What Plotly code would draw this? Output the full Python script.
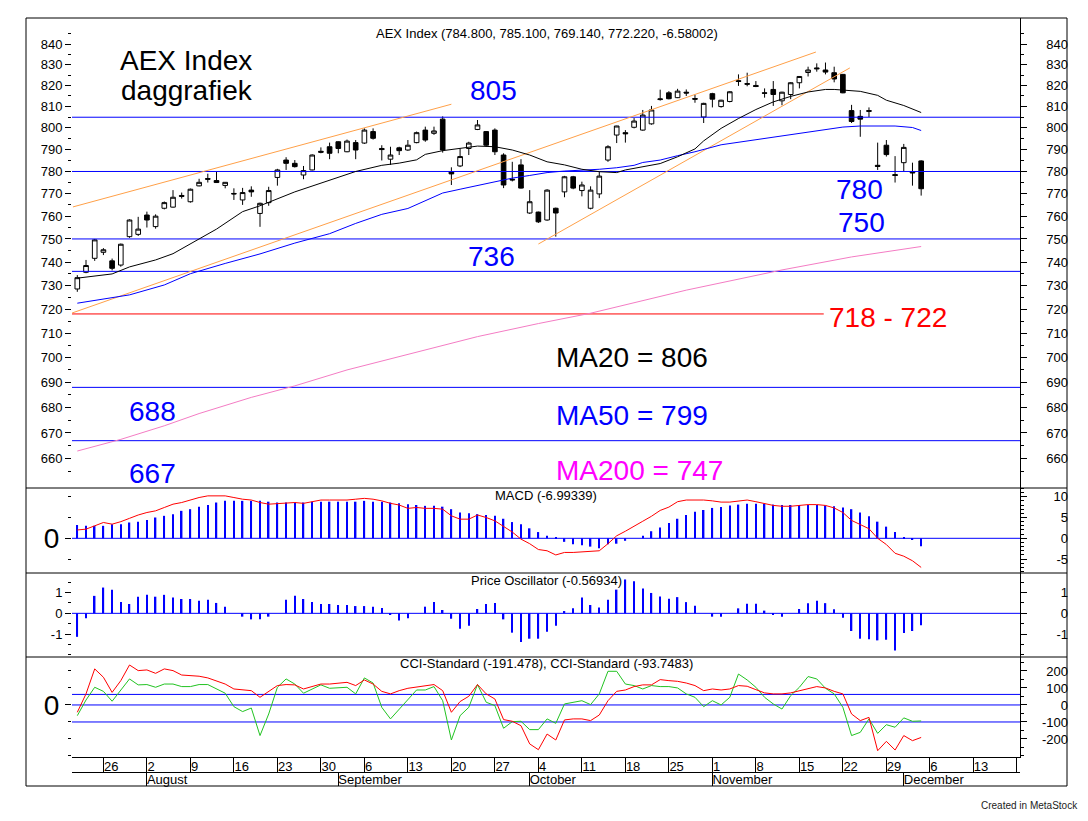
import math
import plotly.graph_objects as go

W, H = 1088, 821

# ================= AEX daggrafiek: waarden =================
# handelsdagen 21 juli t/m 3 december (index 0..97)
bar_open = [728.5, 735.6, 741.6, 744.2, 740.5, 738.7, 751.0, 752.0, 760.5, 755.4,
            763.5, 764.0, 769.2, 766.4, 773.5, 776.8, 775.9, 773.7, 770.1, 767.2,
            771.6, 761.2, 766.0, 777.3, 785.2, 783.7, 778.4, 780.7, 789.2, 791.3,
            793.6, 789.0, 793.2, 793.0, 798.3, 790.5, 785.6, 790.8, 789.8, 793.2,
            799.0, 797.5, 804.1, 779.9, 782.5, 790.5, 799.3, 798.3, 799.0, 787.5,
            776.5, 783.0, 761.4, 761.8, 758.3, 763.5, 770.8, 777.6, 771.4, 763.5,
            769.9, 785.2, 796.7, 797.8, 800.3, 799.0, 801.9, 813.3, 816.5, 814.2,
            816.8, 813.8, 805.1, 816.1, 810.0, 812.4, 822.3, 820.9, 820.0, 816.5,
            818.1, 812.7, 815.7, 821.3, 826.2, 828.4, 827.4, 826.1, 825.3, 808.1,
            805.4, 808.1, 782.8, 792.0, 778.6, 784.0, 779.8, 784.8]
bar_high = [734.4, 740.9, 750.0, 746.0, 741.5, 748.0, 758.6, 759.7, 762.0, 760.8,
            766.5, 771.6, 770.5, 772.3, 776.7, 779.0, 779.9, 775.2, 772.4, 772.6,
            773.3, 766.0, 773.1, 781.2, 786.5, 785.2, 782.5, 787.8, 791.0, 793.2,
            793.8, 794.6, 794.4, 799.8, 799.8, 792.0, 791.3, 791.3, 794.4, 798.3,
            800.6, 800.6, 805.4, 781.9, 790.5, 793.6, 803.7, 798.5, 799.8, 788.3,
            784.4, 785.6, 771.6, 762.0, 772.0, 763.8, 778.0, 778.0, 775.4, 773.3,
            779.9, 792.0, 801.0, 799.0, 804.6, 808.4, 810.3, 818.0, 817.3, 818.4,
            818.1, 815.6, 811.8, 816.5, 813.2, 817.3, 825.3, 826.1, 822.1, 818.6,
            822.1, 817.0, 821.6, 824.5, 829.0, 830.6, 831.0, 829.0, 825.5, 810.8,
            808.4, 809.6, 793.2, 794.4, 787.0, 792.6, 784.0, 785.1]
bar_low = [727.3, 735.2, 740.5, 743.0, 736.4, 738.0, 750.5, 751.3, 755.0, 754.5,
           763.0, 763.8, 767.8, 766.0, 773.3, 775.0, 774.8, 772.4, 767.2, 765.0,
           768.6, 755.3, 764.6, 773.6, 780.7, 781.8, 776.5, 780.5, 788.3, 785.6,
           788.3, 788.8, 785.6, 792.6, 794.6, 785.0, 783.0, 787.5, 789.4, 792.9,
           793.6, 796.8, 788.6, 773.9, 782.0, 787.5, 799.0, 791.3, 787.5, 772.5,
           775.5, 772.3, 761.0, 757.0, 758.0, 751.0, 768.4, 772.0, 768.8, 763.0,
           768.0, 784.4, 793.0, 793.2, 799.8, 798.7, 801.5, 812.8, 813.4, 814.0,
           815.0, 811.8, 802.3, 809.6, 809.5, 812.0, 819.8, 819.6, 819.2, 814.2,
           810.3, 810.6, 813.5, 818.6, 824.3, 826.6, 825.3, 821.5, 816.3, 802.3,
           795.9, 805.1, 780.7, 786.8, 775.0, 779.9, 773.6, 769.14]
bar_close = [733.3, 738.5, 749.6, 745.3, 737.3, 747.7, 758.3, 754.3, 758.3, 760.0,
             766.0, 768.4, 768.8, 772.0, 775.1, 776.5, 775.0, 775.1, 769.9, 770.5,
             770.8, 765.7, 771.4, 780.7, 783.7, 782.2, 780.4, 787.5, 788.8, 788.3,
             790.5, 793.9, 789.8, 799.0, 795.2, 790.0, 787.5, 789.5, 792.0, 797.8,
             794.4, 798.6, 789.8, 778.9, 786.8, 793.0, 801.4, 792.0, 789.0, 773.9,
             776.2, 772.5, 766.4, 757.5, 771.6, 761.4, 777.6, 772.5, 773.9, 771.6,
             777.9, 791.3, 800.9, 797.3, 803.2, 806.0, 808.4, 813.6, 813.7, 817.3,
             816.4, 813.5, 811.5, 813.5, 813.0, 817.0, 821.9, 820.6, 819.5, 816.3,
             815.7, 816.8, 821.3, 824.3, 827.4, 828.0, 826.4, 823.1, 816.5, 803.0,
             804.1, 807.8, 782.3, 787.7, 778.2, 791.0, 779.4, 772.22]

ma20_at = [0, 4, 6, 9, 11, 14, 16, 19, 21, 25, 26, 29, 32, 35, 37, 39, 40, 42, 44, 46,
           48, 50, 52, 54, 56, 58, 60, 62, 63, 65, 67, 69, 71, 72, 74, 76, 78, 80, 82,
           84, 86, 87, 89, 90, 92, 93, 95, 97]
ma20 = [733.1, 734.9, 737.9, 740.9, 743.6, 750.2, 754.3, 762.0, 764.6, 770.8, 772.1,
        776.3, 780.0, 782.8, 783.8, 785.3, 787.8, 789.5, 790.5, 791.6, 791.3, 789.8,
        787.5, 784.4, 783.0, 781.0, 779.9, 779.5, 780.7, 782.0, 783.6, 786.7, 790.3,
        794.0, 799.8, 804.4, 808.6, 812.2, 814.8, 816.9, 818.1, 818.1, 817.7, 817.2,
        815.3, 813.0, 810.5, 807.2]
ma50_at = [0, 6, 10, 13, 17, 21, 25, 29, 32, 35, 38, 40, 42, 44, 46, 48, 50, 52, 54,
           56, 58, 60, 62, 64, 65, 67, 69, 71, 74, 78, 82, 86, 88, 90, 92, 94, 96, 97]
ma50 = [722.5, 726.0, 730.2, 735.0, 739.4, 743.5, 748.2, 752.3, 756.8, 760.8, 763.4,
        766.8, 770.3, 772.0, 773.6, 775.4, 777.0, 778.2, 779.5, 780.2, 780.5, 781.0,
        781.7, 782.8, 784.1, 785.2, 787.2, 789.0, 792.2, 794.5, 796.9, 798.9, 800.4,
        800.9, 800.9, 800.9, 800.2, 798.8]
ma200_at = [0, 5, 10, 14, 20, 25, 31, 36, 40, 46, 53, 59, 70, 81, 89, 97]
ma200 = [663.0, 667.5, 672.8, 677.6, 684.0, 688.6, 695.0, 699.4, 703.2, 708.6, 714.0,
         718.3, 728.0, 736.6, 742.2, 746.7]

# getekende trendlijnen (begin- en eindpunt)
trend_at = [[-0.5, 43.0], [-0.6, 84.9], [53.0, 88.8]]
trend_val = [[764.1, 811.1], [718.4, 836.1], [747.8, 828.4]]

# steun / weerstand
levels_blue = [805, 780, 750, 736, 688, 667]
level_red = 718
level_red_end = 85.8

# MACD
macd = [2.0, 2.2, 3.0, 3.8, 3.4, 4.0, 4.8, 5.6, 6.2, 6.6,
        7.4, 8.2, 8.6, 9.2, 9.8, 10.2, 10.2, 10.2, 9.8, 9.4,
        9.2, 8.6, 8.2, 8.3, 8.4, 8.6, 8.4, 8.8, 9.2, 9.2,
        9.2, 9.2, 9.4, 9.6, 9.4, 9.0, 8.4, 8.0, 7.2, 7.4,
        7.2, 7.2, 7.0, 5.4, 4.6, 4.6, 5.6, 5.0, 4.2, 2.8,
        1.5, -0.2, -1.3, -2.7, -3.0, -4.0, -3.4, -3.4, -3.3, -3.2,
        -3.0, -1.3, 0.6, 1.7, 3.0, 4.1, 5.3, 6.7, 7.5, 8.8,
        9.2, 9.2, 9.2, 9.0, 8.7, 8.7, 9.0, 9.2, 8.8, 8.4,
        7.9, 7.7, 7.7, 7.9, 8.1, 8.1, 7.9, 7.3, 6.2, 4.3,
        3.2, 2.3, 0.0, -1.5, -3.6, -4.3, -5.4, -7.0]
macd_hist = [3.2, 3.0, 3.0, 3.0, 3.4, 3.4, 3.8, 4.0, 4.4, 5.0,
             5.4, 5.8, 6.6, 7.0, 7.6, 8.0, 8.6, 9.0, 9.0, 9.0,
             9.0, 9.0, 8.8, 8.6, 8.6, 8.6, 8.6, 8.8, 8.8, 8.8,
             8.8, 8.8, 8.8, 9.0, 8.8, 8.8, 8.6, 8.4, 8.2, 8.0,
             7.8, 7.8, 7.6, 7.0, 6.2, 6.0, 5.8, 5.6, 5.4, 4.7,
             3.9, 3.4, 2.4, 1.5, 0.6, 0.1, -0.85, -1.45, -1.7, -2.0,
             -2.4, -1.45, -1.3, -0.6, 0.0, 0.6, 1.7, 2.6, 3.7, 4.7,
             5.6, 6.4, 6.8, 7.3, 7.5, 7.9, 8.1, 8.3, 8.3, 8.3,
             8.1, 8.0, 8.0, 8.0, 8.0, 8.0, 7.9, 7.7, 7.4, 7.0,
             6.2, 5.3, 4.0, 2.8, 1.5, 0.3, -0.4, -1.9]

# Price Oscillator
price_osc = [-1.13, -0.24, 0.84, 1.24, 1.13, 0.55, 0.45, 0.8, 0.89, 0.8,
             0.89, 0.76, 0.69, 0.69, 0.61, 0.65, 0.5, 0.32, 0.0, -0.16,
             -0.29, -0.29, -0.16, 0.0, 0.65, 0.84, 0.69, 0.55, 0.45, 0.45,
             0.4, 0.4, 0.35, 0.35, 0.32, 0.26, -0.08, -0.35, -0.24, 0.0,
             0.32, 0.55, 0.16, -0.26, -0.74, -0.6, 0.21, 0.45, 0.5, -0.29,
             -0.93, -1.38, -1.22, -1.22, -0.89, -0.6, 0.11, 0.24, 0.76, 0.4,
             0.28, 0.65, 1.14, 1.63, 1.54, 1.19, 0.98, 0.81, 0.7, 0.78,
             0.54, 0.36, 0.0, -0.16, -0.16, 0.0, 0.24, 0.46, 0.46, 0.13,
             -0.08, -0.16, 0.0, 0.21, 0.49, 0.6, 0.49, 0.2, -0.21, -0.85,
             -1.22, -1.25, -1.3, -1.27, -1.79, -0.94, -0.85, -0.57]

# CCI
cci_red = [-43, 65, 212, 163, 74, 143, 235, 202, 206, 186,
           212, 202, 176, 172, 169, 159, 143, 123, 94, 88,
           84, 45, 80, 114, 120, 118, 94, 110, 123, 123,
           129, 133, 114, 147, 123, 80, 65, 84, 98, 104,
           114, 120, 84, -43, 20, 51, 120, 65, 35, -86,
           -96, -122, -229, -263, -171, -206, -88, -82, -82, -92,
           -59, 25, 80, 88, 108, 118, 118, 149, 143, 139,
           129, 114, 84, 94, 88, 94, 114, 110, 90, 71,
           65, 65, 71, 84, 98, 108, 100, 80, 65, -53,
           -92, -73, -269, -214, -265, -180, -210, -191]
cci_green = [-63, 29, 104, 80, 22, 84, 153, 118, 120, 104,
             123, 123, 108, 108, 120, 120, 94, 69, -10, -39,
             -18, -180, -53, 104, 153, 123, 69, 94, 118, 98,
             100, 104, 65, 159, 129, -14, -82, -24, 31, 88,
             88, 108, 25, -206, -63, -14, 120, 16, -4, -137,
             -98, -96, -145, -145, -82, -108, 6, 16, 25, 2,
             65, 198, 198, 123, 114, 94, 114, 108, 108, 100,
             65, 45, -10, 25, 0, 45, 182, 147, 104, 45,
             6, -24, 55, 104, 167, 153, 98, 65, -14, -180,
             -161, -82, -167, -116, -131, -76, -96, -94]
cci_levels = [62, 0, -100]

# datum-as
week_at = [3, 8, 13, 18, 23, 28, 33, 38, 43, 48, 53, 58, 63, 68, 73, 78, 83, 88, 93, 98, 103, 108]
week_txt = ["26", "2", "9", "16", "23", "30", "6", "13", "20", "27", "4", "11",
            "18", "25", "1", "8", "15", "22", "29", "6", "13", "20"]
month_at = [8, 30, 52, 73, 95]
month_txt = ["August", "September", "October", "November", "December"]

bars = list(range(len(bar_close)))

# ================= opmaak =================
FONT = "Liberation Sans, Arial, sans-serif"
BLUE = "#0000FF"


def px(x):
    return x / W


def py(y):
    return 1 - y / H


x_dom = [px(72), px(1020)]
x_rng = [-0.61, 108.36]

main_rng = [math.log10(648.9), math.log10(852.8)]
macd_rng = [-8.34, 12.09]
po_rng = [-2.10, 1.94]
cci_rng = [-306, 282]

dom_main = [py(488), py(18)]
dom_macd = [py(573), py(488)]
dom_po = [py(657), py(573)]
dom_cci = [py(757), py(657)]
dom_day = [py(772), py(757)]
dom_month = [py(786), py(772)]

fig = go.Figure()

# --- koersgrafiek ---
for lv in levels_blue:
    fig.add_trace(go.Scatter(x=x_rng, y=[lv, lv], mode="lines",
                             line=dict(color=BLUE, width=1), xaxis="x", yaxis="y"))
fig.add_trace(go.Scatter(x=[x_rng[0], level_red_end], y=[level_red, level_red], mode="lines",
                         line=dict(color="#FF0000", width=1), xaxis="x", yaxis="y"))

for tx, tv in zip(trend_at, trend_val):
    fig.add_trace(go.Scatter(x=tx, y=tv, mode="lines",
                             line=dict(color="#FFA048", width=1), xaxis="x", yaxis="y"))

fig.add_trace(go.Scatter(x=ma200_at, y=ma200, mode="lines",
                         line=dict(color="#F47CC4", width=1), xaxis="x", yaxis="y"))
fig.add_trace(go.Scatter(x=ma50_at, y=ma50, mode="lines",
                         line=dict(color=BLUE, width=1), xaxis="x", yaxis="y"))
fig.add_trace(go.Scatter(x=ma20_at, y=ma20, mode="lines",
                         line=dict(color="black", width=1), xaxis="x", yaxis="y"))

fig.add_trace(go.Candlestick(
    x=bars, open=bar_open, high=bar_high, low=bar_low, close=bar_close,
    increasing=dict(fillcolor="white", line=dict(color="black", width=1)),
    decreasing=dict(fillcolor="black", line=dict(color="black", width=1)),
    whiskerwidth=0, xaxis="x", yaxis="y"))

# --- MACD ---
fig.add_trace(go.Bar(x=bars, y=macd_hist, width=0.17, marker=dict(color=BLUE, line=dict(width=0)),
                     xaxis="x2", yaxis="y4"))
fig.add_trace(go.Scatter(x=x_rng, y=[0, 0], mode="lines", line=dict(color=BLUE, width=1),
                         xaxis="x2", yaxis="y4"))
fig.add_trace(go.Scatter(x=bars, y=macd, mode="lines", line=dict(color="#FF0000", width=1),
                         xaxis="x2", yaxis="y4"))

# --- Price Oscillator ---
fig.add_trace(go.Bar(x=bars, y=price_osc, width=0.17, marker=dict(color=BLUE, line=dict(width=0)),
                     xaxis="x3", yaxis="y7"))
fig.add_trace(go.Scatter(x=x_rng, y=[0, 0], mode="lines", line=dict(color=BLUE, width=1),
                         xaxis="x3", yaxis="y7"))

# --- CCI ---
for lv in cci_levels:
    fig.add_trace(go.Scatter(x=x_rng, y=[lv, lv], mode="lines", line=dict(color=BLUE, width=1),
                             xaxis="x4", yaxis="y10"))
fig.add_trace(go.Scatter(x=bars, y=cci_green, mode="lines", line=dict(color="#22C322", width=1),
                         xaxis="x4", yaxis="y10"))
fig.add_trace(go.Scatter(x=bars, y=cci_red, mode="lines", line=dict(color="#FF0000", width=1),
                         xaxis="x4", yaxis="y10"))

# lege traces zodat de rechter assen en de datumstroken getekend worden
for xa, ya in [("x", "y2"), ("x", "y3"), ("x2", "y5"), ("x2", "y6"), ("x3", "y8"),
               ("x3", "y9"), ("x4", "y11"), ("x4", "y12"), ("x5", "y13"), ("x6", "y14")]:
    fig.add_trace(go.Scatter(x=[], y=[], mode="lines", xaxis=xa, yaxis=ya, hoverinfo="skip"))


# ---------- assen ----------
def xax(anchor, **kw):
    d = dict(domain=x_dom, range=x_rng, anchor=anchor, showgrid=False, zeroline=False,
             showticklabels=False, ticks="", showline=False, fixedrange=True)
    d.update(kw)
    return d


def left_ax(dom, rng, vals, txt, minor_vals, size=13, typ="linear"):
    return dict(domain=dom, range=rng, type=typ, anchor="x", side="left",
                tickmode="array", tickvals=vals, ticktext=txt,
                ticks="outside", ticklen=6, tickcolor="black", tickwidth=1,
                tickfont=dict(size=size, color="black", family=FONT),
                minor=dict(tickmode="array", tickvals=minor_vals, ticks="outside",
                           ticklen=3, tickcolor="black", tickwidth=1, showgrid=False),
                showgrid=False, zeroline=False, showline=False, fixedrange=True)


def right_tick_ax(base, dom, rng, vals, minor_vals, typ="linear"):
    return dict(domain=dom, range=rng, type=typ, overlaying=base, anchor="x", side="right",
                tickmode="array", tickvals=vals, showticklabels=False,
                ticks="outside", ticklen=6, tickcolor="black", tickwidth=1,
                minor=dict(tickmode="array", tickvals=minor_vals, ticks="outside",
                           ticklen=3, tickcolor="black", tickwidth=1, showgrid=False),
                showgrid=False, zeroline=False, showline=True, linecolor="black",
                linewidth=1, fixedrange=True)


def right_label_ax(base, dom, rng, vals, txt, typ="linear"):
    return dict(domain=dom, range=rng, type=typ, overlaying=base, anchor="free",
                position=px(1068), side="left", tickmode="array", tickvals=vals,
                ticktext=txt, ticks="", tickfont=dict(size=13, color="black", family=FONT),
                showgrid=False, zeroline=False, showline=False, fixedrange=True)


main_vals = list(range(660, 841, 10))
main_txt = [str(v) for v in main_vals]
main_minor = list(range(655, 851, 10))
macd_vals = [-5, 0, 5, 10]
po_vals = [-1, 0, 1]
po_minor = [-2, -1.5, -0.5, 0.5, 1.5]
cci_vals = [-200, -100, 0, 100, 200]

layout = dict(
    width=W, height=H, margin=dict(l=0, r=0, t=0, b=0),
    paper_bgcolor="white", plot_bgcolor="white", showlegend=False,
    font=dict(family=FONT, color="black", size=13),
    barmode="overlay", boxgap=0.24,
    xaxis=xax("y", rangeslider=dict(visible=False)),
    xaxis2=xax("y4", matches="x"),
    xaxis3=xax("y7", matches="x"),
    xaxis4=xax("y10", matches="x", showline=True, linecolor="black", linewidth=1),
    xaxis5=xax("y13", matches="x", showticklabels=True, tickmode="array",
               tickvals=week_at, ticktext=week_txt, ticklabelposition="inside right",
               ticklabelstandoff=-5,
               tickfont=dict(size=13, color="black", family=FONT),
               showgrid=True, gridcolor="black", gridwidth=1,
               showline=True, linecolor="black", linewidth=1),
    xaxis6=xax("y14", matches="x", showticklabels=True, tickmode="array",
               tickvals=month_at, ticktext=month_txt, ticklabelposition="inside right",
               ticklabelstandoff=-7,
               tickfont=dict(size=13, color="black", family=FONT),
               showgrid=True, gridcolor="black", gridwidth=1, showline=False),
    yaxis=left_ax(dom_main, main_rng, main_vals, main_txt, main_minor, typ="log"),
    yaxis2=right_tick_ax("y", dom_main, main_rng, main_vals, main_minor, typ="log"),
    yaxis3=right_label_ax("y", dom_main, main_rng, main_vals, main_txt, typ="log"),
    yaxis4=left_ax(dom_macd, macd_rng, [0], ["0"], [-5, 5, 10], size=28),
    yaxis5=right_tick_ax("y4", dom_macd, macd_rng, macd_vals, list(range(-8, 13))),
    yaxis6=right_label_ax("y4", dom_macd, macd_rng, macd_vals, ["-5", "0", "5", "10"]),
    yaxis7=left_ax(dom_po, po_rng, po_vals, ["-1", "0", "1"], po_minor),
    yaxis8=right_tick_ax("y7", dom_po, po_rng, po_vals, po_minor),
    yaxis9=right_label_ax("y7", dom_po, po_rng, po_vals, ["-1", "0", "1"]),
    yaxis10=left_ax(dom_cci, cci_rng, [0], ["0"], [-300, -200, -100, 100, 200], size=28),
    yaxis11=right_tick_ax("y10", dom_cci, cci_rng, cci_vals, [-300, -250, -150, -50, 50, 150, 250]),
    yaxis12=right_label_ax("y10", dom_cci, cci_rng, cci_vals, ["-200", "-100", "0", "100", "200"]),
    yaxis13=dict(domain=dom_day, range=[0, 1], visible=False, anchor="x5", fixedrange=True),
    yaxis14=dict(domain=dom_month, range=[0, 1], visible=False, anchor="x6", fixedrange=True),
)
fig.update_layout(**layout)

# kader en scheidingslijnen
shapes = [dict(type="rect", xref="paper", yref="paper", x0=px(26), x1=px(1067),
               y0=py(786), y1=py(18), line=dict(color="black", width=1))]
for yy in [488, 573, 657]:
    shapes.append(dict(type="line", xref="paper", yref="paper", x0=px(26), x1=px(1067),
                       y0=py(yy), y1=py(yy), line=dict(color="black", width=1)))
fig.update_layout(shapes=shapes)


def label(txt, x, y, size=28, color="black", anchor="left"):
    fig.add_annotation(text=txt, x=px(x), y=py(y), xref="paper", yref="paper",
                       showarrow=False, xanchor=anchor, yanchor="middle",
                       font=dict(size=size, color=color, family=FONT))


label("AEX Index", 118, 61)
label("daggrafiek", 119, 90)
label("805", 468, 90, color=BLUE)
label("736", 466, 256, color=BLUE)
label("780", 834, 190, color=BLUE)
label("750", 836, 222, color=BLUE)
label("718 - 722", 827, 317, color="#FF0000")
label("MA20 = 806", 554, 358)
label("MA50 = 799", 554, 416, color=BLUE)
label("MA200 = 747", 554, 470, color="#FF00FF")
label("688", 127, 411, color=BLUE)
label("667", 127, 473, color=BLUE)

label("AEX Index (784.800, 785.100, 769.140, 772.220, -6.58002)", 547, 33, size=13, anchor="center")
label("MACD (-6.99339)", 546, 495, size=13, anchor="center")
label("Price Oscillator (-0.56934)", 546, 580, size=13, anchor="center")
label("CCI-Standard (-191.478), CCI-Standard (-93.7483)", 546, 663, size=13, anchor="center")
label("Created in MetaStock", 1080, 805, size=10, color="#222222", anchor="right")

fig.write_html("out.html", config={"displayModeBar": False},
               post_script="document.body.style.margin='0px';")
